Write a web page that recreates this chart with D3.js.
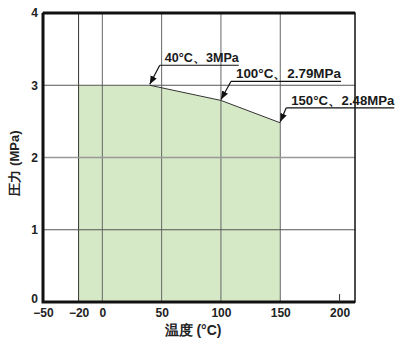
<!DOCTYPE html>
<html>
<head>
<meta charset="utf-8">
<script src="https://cdn.jsdelivr.net/npm/d3@7"></script>
<style>
  body { margin: 0; background: #fff; }
  text { font-family: "Liberation Sans", Arial, sans-serif; }
</style>
</head>
<body>
<div id="content"></div>
<script>
const W = 400;
const H = 340;

// data
const xTicks = [-50, -20, 0, 50, 100, 150, 200];
const xGrid = [-20, 0, 50, 100, 150];
const yTicks = [0, 1, 2, 3, 4];
const tempC = [-20, 40, 100, 150];
const pressure = [3, 3, 2.79, 2.48];
const noteIdx = [1, 2, 3];
const noteText = ["40°C、3MPa", "100°C、2.79MPa", "150°C、2.48MPa"];

const x = d3.scaleLinear().domain([-50, 213]).range([43, 355]);
const y = d3.scaleLinear().domain([0, 4]).range([302, 13]);

const svg = d3.select("#content").append("svg")
  .attr("width", W).attr("height", H);

svg.append("rect").attr("width", W).attr("height", H).attr("fill", "white");

const pts = tempC.map((t, i) => ({ t: t, p: pressure[i] }));

// green region
svg.append("path")
  .datum(pts)
  .attr("fill", "#d6e9c6")
  .attr("d", d3.area().x(d => x(d.t)).y0(y(0)).y1(d => y(d.p)));

// grid
svg.append("g").selectAll("line").data(xGrid).join("line")
  .attr("x1", d => x(d)).attr("x2", d => x(d))
  .attr("y1", y(0)).attr("y2", y(4))
  .attr("stroke", d => d === -20 ? "#333" : "#666")
  .attr("stroke-width", 1);

svg.append("g").selectAll("line").data([1, 2, 3]).join("line")
  .attr("x1", x(-50)).attr("x2", x(213))
  .attr("y1", d => y(d)).attr("y2", d => y(d))
  .attr("stroke", d => d === 2 ? "#999" : "#555")
  .attr("stroke-width", d => d === 2 ? 1.6 : 1);

// limit curve
svg.append("path")
  .datum(pts.slice(1))
  .attr("fill", "none")
  .attr("stroke", "#333")
  .attr("stroke-width", 1)
  .attr("d", d3.line().x(d => x(d.t)).y(d => y(d.p)));

// frame
svg.append("rect")
  .attr("x", x(-50)).attr("y", y(4))
  .attr("width", x(213) - x(-50)).attr("height", y(0) - y(4))
  .attr("fill", "none").attr("stroke", "#111").attr("stroke-width", 1.5);
svg.append("path")
  .attr("d", `M${x(-50)},${y(4)}H${x(213)}M${x(-50)},${y(4)}V${y(0)}H${x(213)}`)
  .attr("fill", "none").attr("stroke", "#111").attr("stroke-width", 3);

// axes
const tickFont = "Liberation Sans Narrow, Liberation Sans, sans-serif";
const xAxis = svg.append("g")
  .attr("transform", `translate(0,${y(0)})`)
  .call(d3.axisBottom(x).tickValues(xTicks).tickSize(0).tickPadding(6)
    .tickFormat(d => d < 0 ? "−" + Math.abs(d) : d));
xAxis.select(".domain").remove();
xAxis.selectAll("text").attr("font-size", 12).attr("font-weight", "bold")
  .attr("fill", "#222").attr("font-family", tickFont);

svg.append("line")
  .attr("x1", x(200)).attr("x2", x(200))
  .attr("y1", y(0)).attr("y2", y(0) - 8)
  .attr("stroke", "#333");

const yAxis = svg.append("g")
  .attr("transform", `translate(${x(-50)},0)`)
  .call(d3.axisLeft(y).tickValues(yTicks).tickSize(0).tickPadding(5).tickFormat(d3.format("d")));
yAxis.select(".domain").remove();
yAxis.selectAll("text").attr("font-size", 12).attr("font-weight", "bold")
  .attr("fill", "#222").attr("font-family", tickFont);
yAxis.selectAll(".tick").filter(d => d === 0).select("text").attr("dy", "0");

// axis titles
svg.append("text")
  .attr("transform", `translate(19,163) rotate(-90)`)
  .attr("text-anchor", "middle")
  .attr("font-size", 13).attr("font-weight", "bold").attr("fill", "#222")
  .attr("font-family", "Noto Sans CJK JP, sans-serif")
  .text("圧力 (MPa)");

svg.append("text")
  .attr("x", 193).attr("y", 335)
  .attr("text-anchor", "middle")
  .attr("font-size", 14).attr("font-weight", "bold").attr("fill", "#222")
  .attr("font-family", "Noto Sans CJK JP, sans-serif")
  .text("温度 (°C)");

// annotations
svg.append("defs").append("marker")
  .attr("id", "ah").attr("viewBox", "0 0 10 10")
  .attr("refX", 10).attr("refY", 5)
  .attr("markerWidth", 7).attr("markerHeight", 7)
  .attr("orient", "auto")
  .append("path").attr("d", "M0,1L10,5L0,9Z").attr("fill", "#111");

const noteOff = [{ dx: 10, dy: -20, w: 79 }, { dx: 10, dy: -19, w: 110 }, { dx: 6, dy: -15, w: 108 }];

noteIdx.forEach((k, i) => {
  const px = x(tempC[k]), py = y(pressure[k]);
  const o = noteOff[i];
  const ax = px + o.dx, ay = py + o.dy;
  svg.append("line")
    .attr("x1", ax).attr("y1", ay).attr("x2", px).attr("y2", py - 1)
    .attr("stroke", "#111").attr("stroke-width", 1.2)
    .attr("marker-end", "url(#ah)");
  svg.append("line")
    .attr("x1", ax).attr("x2", ax + o.w).attr("y1", ay).attr("y2", ay)
    .attr("stroke", "#111").attr("stroke-width", 1.2);
  svg.append("text")
    .attr("x", ax + 5).attr("y", ay - 3)
    .attr("font-size", 12.5).attr("font-weight", "bold").attr("fill", "#1a1a1a")
    .attr("textLength", o.w - 5).attr("lengthAdjust", "spacingAndGlyphs")
    .text(noteText[i]);
});
</script>
</body>
</html>
